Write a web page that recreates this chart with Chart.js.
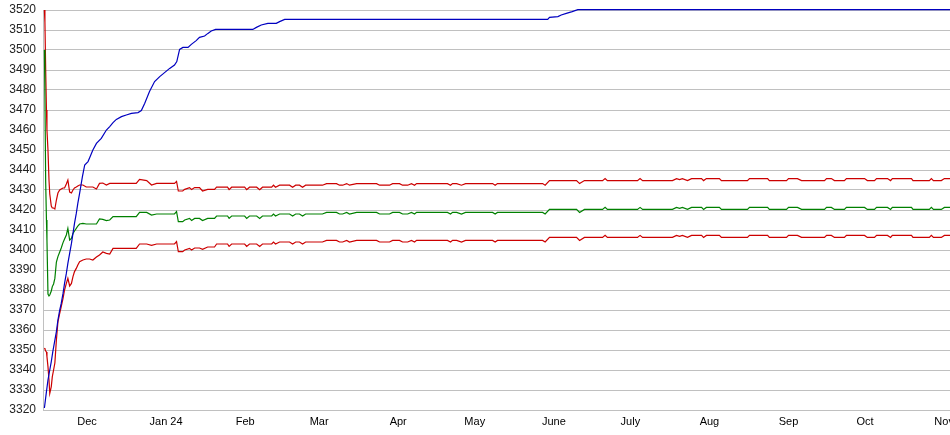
<!DOCTYPE html>
<html><head><meta charset="utf-8">
<script src="https://cdn.jsdelivr.net/npm/chart.js@4/dist/chart.umd.min.js"></script>
<style>html,body{margin:0;padding:0;overflow:hidden;background:#fff;width:950px;height:435px}canvas{display:block}</style>
</head><body>
<canvas id="c" width="962" height="435" style="width:962px;height:435px"></canvas>
<script>
// x values are days since 14 Nov 2023
const monthTickDays = [17, 48, 79, 108, 139, 169, 200, 230, 261, 292, 322, 353];
const monthLabels = ['Dec', 'Jan 24', 'Feb', 'Mar', 'Apr', 'May', 'June', 'July', 'Aug', 'Sep', 'Oct', 'Nov'];

const blueDays = [0.3,1.1,1.7,2.4,3.0,3.6,4.3,5.0,5.6,6.3,
  6.9,7.6,8.2,8.9,9.5,10.2,10.9,11.5,12.1,12.8,
  13.4,14.1,15.2,16.1,17.4,18.0,19.3,20.7,22.6,24.6,
  25.9,27.2,28.5,30.5,32.4,34.4,37.0,38.3,39.6,41.5,
  43.5,45.5,47.4,49.4,51.3,52.2,53.3,54.6,56.6,57.9,
  59.8,61.1,63.1,64.4,65.7,67.4,82.0,83.4,85.3,87.9,
  91.2,92.5,94.5,197.6,198.3,201.6,202.9,204.9,207.2,209.4,
  355.3];
const blueValues = [3321,3329.2,3335,3340,3344.2,3349.2,3354.2,3359.2,3365,3370,
  3373.3,3378.3,3383.3,3388.3,3393.3,3398.3,3403.3,3408.3,3413.3,3418.3,
  3423.3,3428.3,3436.7,3442.5,3444.2,3446,3450,3453.3,3455.8,3460,
  3461.7,3463.7,3465.3,3466.7,3467.5,3468.3,3468.7,3469.7,3473.3,3479.2,
  3484.2,3486.7,3488.7,3490.8,3492.5,3494.2,3500.3,3501.3,3501.3,3502.8,
  3504.7,3506.3,3507,3508.3,3509.5,3510.3,3510.3,3511.3,3512.5,3513.3,
  3513.3,3514.2,3515.3,3515.3,3516.3,3516.7,3517.5,3518.3,3519.2,3520.2,
  3520.2];

const bandDays = [0.3,0.5,0.8,1.1,1.3,1.7,2.1,2.4,3.0,3.4,
  3.9,4.4,5.0,5.6,6.3,6.9,7.6,8.2,8.9,9.5,
  10.2,10.9,11.5,12.1,12.8,13.4,14.1,15.4,16.7,18.0,
  19.3,20.7,21.9,23.2,24.6,25.9,27.2,36.3,37.6,40.4,
  42.3,44.3,51.3,52.1,52.8,54.5,55.3,57.2,58.0,59.2,
  61.1,62.3,64.3,67.0,67.8,72.1,72.7,73.7,78.8,79.6,
  80.7,83.5,84.7,85.8,89.4,90.1,90.9,92.5,96.4,97.6,
  98.8,100.3,101.5,102.7,109.3,110.9,114.8,116.0,117.2,118.8,
  119.9,122.7,130.5,131.7,135.6,136.8,139.5,140.7,142.7,144.2,
  145.4,146.2,158.3,159.5,160.3,161.9,163.8,165.4,176.0,177.0,
  177.9,195.6,196.6,198.3,208.9,210.1,212.0,219.1,220.1,221.0,
  232.8,233.8,234.8,246.5,248.1,249.3,250.4,252.4,254.0,257.9,
  258.7,259.8,264.9,265.7,275.9,276.7,283.8,284.5,291.2,292.0,
  295.5,297.1,306.1,306.9,308.8,310.0,313.9,314.7,321.8,322.9,
  325.7,326.5,330.8,332.0,332.7,340.2,340.8,347.2,348.0,348.8,
  351.9,353.1,355.3];

const upperRed = [3520,3514,3490,3470,3460,3450,3435,3428,3422,3421,
  3421,3420.5,3425,3428.5,3430,3430.5,3431,3431,3433,3435,
  3429,3428.5,3430,3431,3431.5,3432,3432.5,3432.5,3431.5,3431.5,
  3431.5,3430.5,3433.3,3433.5,3432.5,3433.3,3433.3,3433.3,3435.3,3434.7,
  3432.5,3433.3,3433.3,3434.3,3429.5,3429.5,3430.3,3431.2,3430.2,3431.2,
  3431.2,3429.5,3430.3,3430.3,3431.4,3431.4,3430.2,3431.4,3431.4,3430.2,
  3431.4,3431.4,3430.2,3431.4,3431.4,3432.4,3431.4,3432.4,3432.4,3431.4,
  3432.4,3432.4,3431.4,3432.4,3432.4,3433.2,3433.2,3432.4,3432.4,3433.2,
  3432.4,3433.2,3433.2,3432.4,3432.4,3433.2,3433.2,3432.4,3432.4,3433.2,
  3432.4,3433.2,3433.2,3432.4,3433.2,3433.2,3432.4,3433.2,3433.2,3432.4,
  3433.2,3433.2,3432.4,3434.7,3434.7,3433.2,3434.7,3434.7,3435.7,3434.7,
  3434.7,3435.7,3434.7,3434.7,3435.7,3435.2,3435.7,3434.7,3435.7,3435.7,
  3434.7,3435.7,3435.7,3434.7,3434.7,3435.7,3435.7,3434.7,3434.7,3435.7,
  3435.7,3434.7,3434.7,3435.7,3435.7,3434.7,3434.7,3435.7,3435.7,3434.7,
  3434.7,3435.7,3435.7,3434.7,3435.7,3435.7,3434.7,3434.7,3435.7,3434.7,
  3434.7,3435.7,3435.7];

const middleGreen = [3500,3477,3434,3415,3405,3378,3377,3377.5,3379.5,3381.7,
  3383,3385.8,3394,3396.7,3399,3401,3403.7,3405.5,3407.5,3410.8,
  3405,3405.8,3408.3,3409.5,3410.8,3412,3413,3413.3,3413,3413,
  3413,3413,3415.5,3415.3,3414.7,3415,3416.7,3416.7,3418.8,3418.8,
  3417.5,3418,3418,3419.2,3414.2,3414.2,3415,3415.8,3414.8,3415.8,
  3415.8,3414.7,3415.8,3415.8,3417,3417,3415.8,3417,3417,3415.8,
  3417,3417,3415.8,3417,3417,3418,3417,3418,3418,3417,
  3418,3418,3417,3418,3418,3418.8,3418.8,3418,3418,3418.8,
  3418,3418.8,3418.8,3418,3418,3418.8,3418.8,3418,3418,3418.8,
  3418,3418.8,3418.8,3418,3418.8,3418.8,3418,3418.8,3418.8,3418,
  3418.8,3418.8,3418,3420.3,3420.3,3418.8,3420.3,3420.3,3421.3,3420.3,
  3420.3,3421.3,3420.3,3420.3,3421.3,3420.8,3421.3,3420.3,3421.3,3421.3,
  3420.3,3421.3,3421.3,3420.3,3420.3,3421.3,3421.3,3420.3,3420.3,3421.3,
  3421.3,3420.3,3420.3,3421.3,3421.3,3420.3,3420.3,3421.3,3421.3,3420.3,
  3420.3,3421.3,3421.3,3420.3,3421.3,3421.3,3420.3,3420.3,3421.3,3420.3,
  3420.3,3421.3,3421.3];

const lowerRed = [3351,3350.5,3349.5,3349,3346.7,3341.7,3335,3328.3,3331.7,3336.7,
  3340,3343.5,3355,3364,3368.3,3371.7,3375.8,3380,3383.3,3385.8,
  3382,3383.3,3386.7,3389.2,3390.8,3392.5,3394.2,3395,3395.5,3395.5,
  3395,3396.5,3397.5,3399,3398.3,3398,3400.8,3400.8,3403,3403,
  3402.3,3403,3403,3404.2,3399.2,3399.2,3400,3400.8,3400,3401,
  3401,3400.3,3401.5,3401.5,3403,3403,3401.8,3403,3403,3401.8,
  3403,3403,3401.8,3403,3403,3404,3403,3404,3404,3403,
  3404,3404,3403,3404,3404,3404.8,3404.8,3404,3404,3404.8,
  3404,3404.8,3404.8,3404,3404,3404.8,3404.8,3404,3404,3404.8,
  3404,3404.8,3404.8,3404,3404.8,3404.8,3404,3404.8,3404.8,3404,
  3404.8,3404.8,3404,3406.3,3406.3,3404.8,3406.3,3406.3,3407.3,3406.3,
  3406.3,3407.3,3406.3,3406.3,3407.3,3406.8,3407.3,3406.3,3407.3,3407.3,
  3406.3,3407.3,3407.3,3406.3,3406.3,3407.3,3407.3,3406.3,3406.3,3407.3,
  3407.3,3406.3,3406.3,3407.3,3407.3,3406.3,3406.3,3407.3,3407.3,3406.3,
  3406.3,3407.3,3407.3,3406.3,3407.3,3407.3,3406.3,3406.3,3407.3,3406.3,
  3406.3,3407.3,3407.3];

function pts(xs, ys) { return xs.map((x, i) => ({ x: x, y: ys[i] })); }

const FONT = 'Liberation Sans, Arial, Helvetica, sans-serif';

new Chart(document.getElementById('c').getContext('2d'), {
  type: 'line',
  data: {
    datasets: [
      { label: 'blue', data: pts(blueDays, blueValues), borderColor: '#0000c0', clip: 3 },
      { label: 'middle', data: pts(bandDays, middleGreen), borderColor: '#008000', clip: 3 },
      { label: 'upper', data: pts(bandDays, upperRed), borderColor: '#cc0000', clip: 3 },
      { label: 'lower', data: pts(bandDays, lowerRed), borderColor: '#cc0000', clip: 3 }
    ]
  },
  options: {
    responsive: false,
    animation: false,
    devicePixelRatio: 1,
    layout: { padding: { top: 10, right: 12, bottom: 0, left: 0 } },
    plugins: { legend: { display: false }, tooltip: { enabled: false } },
    elements: {
      point: { radius: 0, hoverRadius: 0 },
      line: { tension: 0, borderWidth: 1.2, fill: false }
    },
    scales: {
      x: {
        type: 'linear',
        min: -0.25,
        max: 355.3,
        grid: { display: false, drawTicks: false },
        border: { display: true, color: '#c0c0c0', width: 1 },
        ticks: {
          autoSkip: false, maxRotation: 0, minRotation: 0, padding: 5,
          color: '#000', font: { family: FONT, size: 11 },
          callback: (v, i) => monthLabels[i]
        },
        afterBuildTicks: s => { s.ticks = monthTickDays.map(v => ({ value: v })); },
        afterFit: s => { s.height = 25; }
      },
      y: {
        type: 'linear',
        min: 3320,
        max: 3520,
        grid: { color: '#c0c0c0', lineWidth: 1, drawTicks: false },
        border: { display: true, color: '#c0c0c0', width: 1 },
        ticks: {
          stepSize: 10, maxTicksLimit: 30, autoSkip: false, padding: 7,
          color: '#222', font: { family: FONT, size: 12 },
          callback: v => String(v)
        },
        afterFit: s => { s.width = 43; s.paddingTop = 0; s.paddingBottom = 0; }
      }
    }
  }
});
</script>
</body></html>
